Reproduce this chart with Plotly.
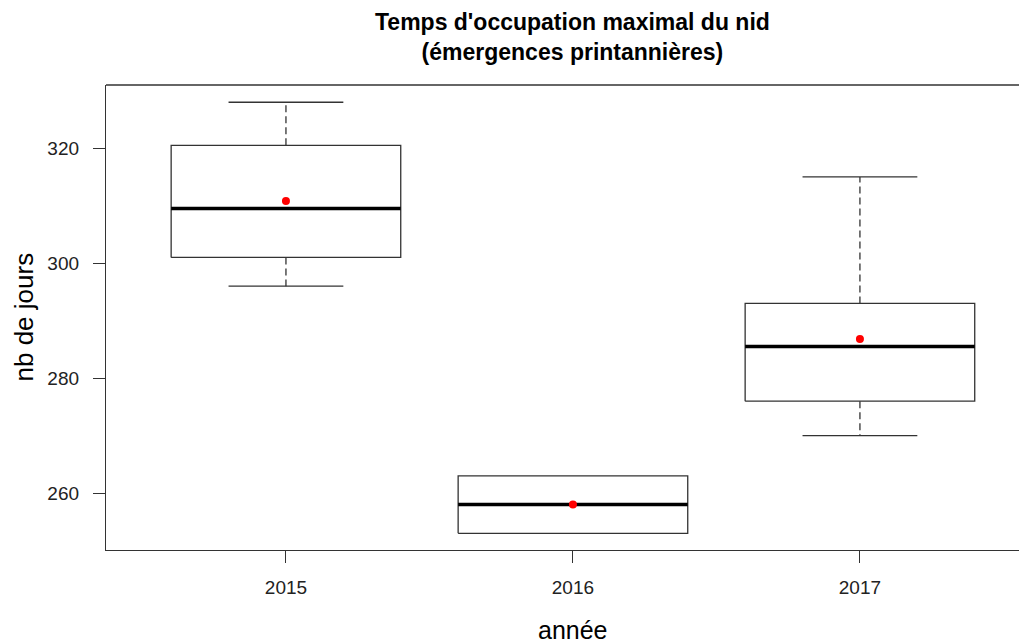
import plotly.graph_objects as go

annees = ['2015', '2016', '2017']
minimum = [296, 253, 270]
q1 = [301, 253, 276]
mediane = [309.5, 258, 285.5]
q3 = [320.5, 263, 293]
maximum = [328, 263, 315]
moyenne = [310.8, 258, 286.8]

pos = [1, 2, 3]
demi = 0.4   # demi-largeur de la boite
cap = 0.2    # demi-largeur des moustaches

bx, by, mx, my, wx, wy, cx, cy = [], [], [], [], [], [], [], []
for i, p in enumerate(pos):
    bx += [p - demi, p + demi, p + demi, p - demi, p - demi, None]
    by += [q1[i], q1[i], q3[i], q3[i], q1[i], None]
    mx += [p - demi, p + demi, None]
    my += [mediane[i], mediane[i], None]
    if maximum[i] > q3[i]:
        wx += [p, p, None]
        wy += [q3[i], maximum[i], None]
        cx += [p - cap, p + cap, None]
        cy += [maximum[i], maximum[i], None]
    if minimum[i] < q1[i]:
        wx += [p, p, None]
        wy += [q1[i], minimum[i], None]
        cx += [p - cap, p + cap, None]
        cy += [minimum[i], minimum[i], None]

gris = '#333333'
fig = go.Figure()
fig.add_trace(go.Scatter(x=wx, y=wy, mode='lines',
                         line=dict(color=gris, width=1.3, dash='7px,4px')))
fig.add_trace(go.Scatter(x=cx, y=cy, mode='lines',
                         line=dict(color=gris, width=1.3)))
fig.add_trace(go.Scatter(x=bx, y=by, mode='lines',
                         line=dict(color=gris, width=1.3)))
fig.add_trace(go.Scatter(x=mx, y=my, mode='lines',
                         line=dict(color='black', width=3.5)))
fig.add_trace(go.Scatter(x=pos, y=moyenne, mode='markers',
                         marker=dict(color='red', size=8)))

police = 'Liberation Sans, Arial, sans-serif'
fig.update_layout(
    width=1027, height=644,
    margin=dict(l=98, r=0, t=77, b=102),
    paper_bgcolor='white', plot_bgcolor='white',
    showlegend=False,
    font=dict(family=police, color='#222222'),
    xaxis=dict(range=[0.373, 3.61], tickvals=pos, ticktext=annees,
               showgrid=False, zeroline=False,
               showline=True, linecolor=gris, linewidth=1.3,
               ticks='outside', ticklen=12, tickcolor=gris, tickwidth=1.3,
               tickfont=dict(size=19), ticklabelstandoff=8),
    yaxis=dict(range=[250.1, 331], tickvals=[260, 280, 300, 320],
               showgrid=False, zeroline=False,
               showline=True, linecolor=gris, linewidth=1.3,
               ticks='outside', ticklen=12, tickcolor=gris, tickwidth=1.3,
               tickfont=dict(size=19), ticklabelstandoff=10),
    shapes=[dict(type='line', xref='paper', yref='paper', x0=0, x1=1.05, y0=1, y1=1,
                 line=dict(color=gris, width=1.3))],
    annotations=[
        dict(text="<b>Temps d'occupation maximal du nid<br>(émergences printannières)</b>",
             xref='x', yref='paper', x=2.0, y=1, xanchor='center', yanchor='bottom',
             yshift=18, showarrow=False, font=dict(size=23, color='black', family=police)),
        dict(text='année', xref='x', yref='paper', x=2.0, y=0, xanchor='center',
             yanchor='middle', yshift=-80, showarrow=False,
             font=dict(size=25, color='black', family=police)),
        dict(text='nb de jours', xref='paper', yref='paper', x=0, y=0.5, textangle=-90,
             xanchor='center', yanchor='middle', xshift=-83, showarrow=False,
             font=dict(size=26, color='black', family=police)),
    ],
)

fig.write_html("out.html")
